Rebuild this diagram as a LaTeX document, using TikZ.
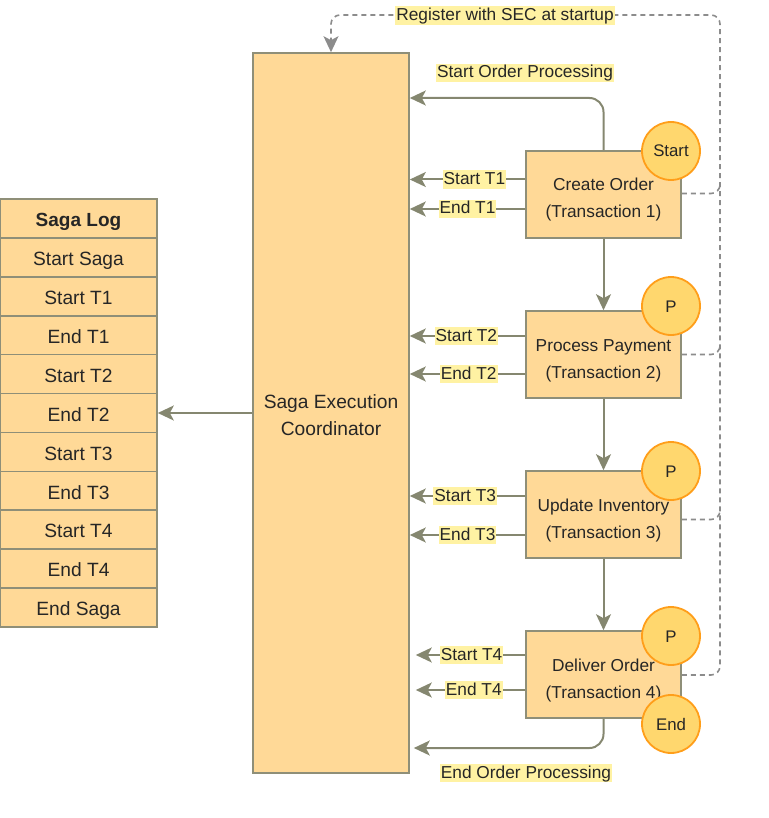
\documentclass[tikz,border=0pt]{standalone}
\usepackage{fontspec}
\setmainfont{Liberation Sans}
\usetikzlibrary{arrows.meta,calc}
\definecolor{boxfill}{HTML}{FFD997}
\definecolor{boxline}{HTML}{8F8F78}
\definecolor{arrline}{HTML}{858770}
\definecolor{circfill}{HTML}{FFD76E}
\definecolor{circline}{HTML}{FF9E1A}
\definecolor{lblbg}{HTML}{FFF2A3}
\definecolor{dashline}{HTML}{8C8C8C}
\definecolor{txt}{HTML}{262626}
\tikzset{
  basefont/.style={font=\fontsize{17.3}{27}\selectfont, text=txt},
  bigfont/.style={font=\fontsize{19.2}{27}\selectfont, text=txt},
  logcell/.style={bigfont, draw=boxline, line width=1.6pt, fill=boxfill, minimum width=157pt, minimum height=38.9pt, inner sep=0pt, text height=16.4pt, text depth=0pt},
  bigbox/.style={bigfont, draw=boxline, line width=1.6pt, fill=boxfill, align=center, inner sep=0pt, text height=44pt, text depth=0pt},
  txbox/.style={basefont, draw=boxline, line width=1.6pt, fill=boxfill, align=center, minimum width=155pt, minimum height=87pt, inner sep=0pt, text height=47pt, text depth=0pt},
  badge/.style={font=\fontsize{16.8}{20}\selectfont, text=txt, circle, draw=circline, line width=1.8pt, fill=circfill, minimum size=58pt, inner sep=0pt, text height=12pt, text depth=0pt},
  arr/.style={draw=arrline, line width=2pt, -{Stealth[length=16pt,width=15pt,inset=4pt]}},
  lbl/.style={basefont, fill=lblbg, inner xsep=1pt, inner ysep=0.3pt, text height=14pt, text depth=4pt},
  dashy/.style={draw=dashline, line width=1.6pt, dash pattern=on 5pt off 4pt, rounded corners=9pt},
}
\begin{document}
\begin{tikzpicture}[x=1pt,y=-1pt]
\useasboundingbox (0,0) rectangle (768,818);

% Saga log table
\node[logcell, font=\fontsize{19}{27}\selectfont\bfseries] (h) at (78.5,218.5) {Saga Log};
\node[logcell] (l1) at (78.5,257.4) {Start Saga};
\node[logcell] (l2) at (78.5,296.3) {Start T1};
\node[logcell] (l3) at (78.5,335.2) {End T1};
\node[logcell] (l4) at (78.5,374.1) {Start T2};
\node[logcell] (l5) at (78.5,413.0) {End T2};
\node[logcell] (l6) at (78.5,451.9) {Start T3};
\node[logcell] (l7) at (78.5,490.8) {End T3};
\node[logcell] (l8) at (78.5,529.7) {Start T4};
\node[logcell] (l9) at (78.5,568.6) {End T4};
\node[logcell] (l10) at (78.5,607.5) {End Saga};

% SEC
\node[bigbox, minimum width=156pt, minimum height=720pt] (sec) at (331,413) {Saga Execution\\Coordinator};

\draw[arr] (sec.west) -- (l5.east);

% transactions
\node[txbox] (t1) at (603.5,194.5) {Create Order\\(Transaction 1)};
\node[txbox] (t2) at (603.5,354.5) {Process Payment\\(Transaction 2)};
\node[txbox] (t3) at (603.5,514.5) {Update Inventory\\(Transaction 3)};
\node[txbox] (t4) at (603.5,674.5) {Deliver Order\\(Transaction 4)};

\draw[arr] (t1.south) -- (t2.north);
\draw[arr] (t2.south) -- (t3.north);
\draw[arr] (t3.south) -- (t4.north);

% start / end arrows
\coordinate (s1) at ($(t1.west)+(0,-15)$);
\coordinate (e1) at ($(t1.west)+(0,14.5)$);
\coordinate (s2) at ($(t2.west)+(0,-18.5)$);
\coordinate (e2) at ($(t2.west)+(0,19.5)$);
\coordinate (s3) at ($(t3.west)+(0,-18.5)$);
\coordinate (e3) at ($(t3.west)+(0,20.5)$);
\coordinate (s4) at ($(t4.west)+(0,-19.5)$);
\coordinate (e4) at ($(t4.west)+(0,15.5)$);
\draw[arr] (s1) -- node[lbl, pos=0.44] {Start T1} (sec.east |- s1);
\draw[arr] (e1) -- node[lbl] {End T1} (sec.east |- e1);
\draw[arr] (s2) -- node[lbl, pos=0.51] {Start T2} (sec.east |- s2);
\draw[arr] (e2) -- node[lbl, pos=0.49] {End T2} (sec.east |- e2);
\draw[arr] (s3) -- node[lbl, pos=0.52] {Start T3} (sec.east |- s3);
\draw[arr] (e3) -- node[lbl, pos=0.5] {End T3} (sec.east |- e3);
\draw[arr] (s4) -- node[lbl, pos=0.49] {Start T4} ($(sec.east |- s4)+(6,0)$);
\draw[arr] (e4) -- node[lbl, pos=0.47] {End T4} ($(sec.east |- e4)+(6,0)$);

% order processing
\coordinate (sopc) at (603.5,98);
\coordinate (eopc) at (603.5,748);
\draw[arr, rounded corners=14pt] (t1.north) -- (sopc) -- (sec.east |- sopc);
\draw[arr, rounded corners=14pt] (t4.south) -- (eopc) -- ($(sec.east |- eopc)+(4,0)$);
\node[lbl] (sop) at (525,73) {Start Order Processing};
\node[lbl] (eop) at (526,773) {End Order Processing};

% registration dashed
\coordinate (rc) at (720,15);
\coordinate (lc) at (331,15);
\draw[dashy] ($(t4.east)+(0,0.5)$) -- ($(t4.east -| rc)+(0,0.5)$) -- (rc) -- (lc) -- ($(sec.north)+(0,-4)$);
\draw[dashy] ($(t1.east)+(0,-1)$) -| ($(rc)+(0,168)$);
\draw[dashy] (t2.east) -| ($(rc)+(0,330)$);
\draw[dashy] ($(t3.east)+(0,5)$) -| ($(rc)+(0,495)$);
\draw[draw=dashline, line width=1.6pt, -{Stealth[length=16pt,width=15pt,inset=4pt]}] ($(sec.north)+(0,-8)$) -- (sec.north);
\node[lbl] (reg) at (505,15.5) {Register with SEC at startup};

% badges
\node[badge] (b1) at (671,151) {Start};
\node[badge] (b2) at (671,306) {P};
\node[badge] (b3) at (671,471) {P};
\node[badge] (b4) at (671,636) {P};
\node[badge] (b5) at (671,724) {End};
\end{tikzpicture}
\end{document}
